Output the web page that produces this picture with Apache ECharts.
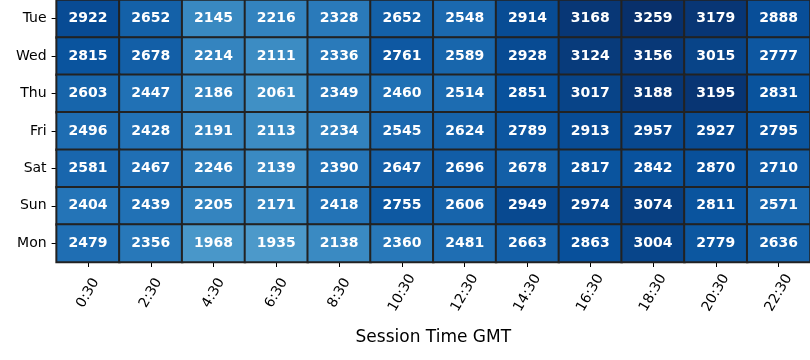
<!DOCTYPE html>
<html>
<head>
<meta charset="utf-8">
<script src="https://cdn.jsdelivr.net/npm/echarts@6/dist/echarts.min.js"></script>
<style>html,body{margin:0;padding:0;background:#fff}#c{width:810px;height:360px}</style>
</head>
<body>
<div id="c"></div>
<script>
const hours = ['0:30','2:30','4:30','6:30','8:30','10:30','12:30','14:30','16:30','18:30','20:30','22:30'];
const days = ['Tue','Wed','Thu','Fri','Sat','Sun','Mon'];
const tue = [2922,2652,2145,2216,2328,2652,2548,2914,3168,3259,3179,2888];
const wed = [2815,2678,2214,2111,2336,2761,2589,2928,3124,3156,3015,2777];
const thu = [2603,2447,2186,2061,2349,2460,2514,2851,3017,3188,3195,2831];
const fri = [2496,2428,2191,2113,2234,2545,2624,2789,2913,2957,2927,2795];
const sat = [2581,2467,2246,2139,2390,2647,2696,2678,2817,2842,2870,2710];
const sun = [2404,2439,2205,2171,2418,2755,2606,2949,2974,3074,2811,2571];
const mon = [2479,2356,1968,1935,2138,2360,2481,2663,2863,3004,2779,2636];
const rows = [tue, wed, thu, fri, sat, sun, mon];
const blues = ['#f7fbff','#deebf7','#c6dbef','#9ecae1','#6baed6','#4292c6','#2171b5','#08519c','#08306b'];

const data = [];
rows.forEach((r, yi) => r.forEach((v, xi) => data.push([xi, yi, v])));
const vmax = Math.max(...rows.flat());

const chart = echarts.init(document.getElementById('c'), null, {renderer: 'canvas'});
const font = 'DejaVu Sans';
chart.setOption({
  animation: false,
  backgroundColor: '#fff',
  grid: {left: 56.6, top: -1, width: 754, height: 263, containLabel: false},
  xAxis: {
    type: 'category', data: hours, position: 'bottom',
    axisLine: {show: false},
    axisTick: {show: true, alignWithLabel: true, length: 5, lineStyle: {color: '#000', width: 1}},
    axisLabel: {rotate: 60, align: 'center', verticalAlign: 'middle', margin: 31, fontSize: 14, fontFamily: font, color: '#000', interval: 0},
    splitLine: {show: false},
    name: 'Session Time GMT', nameLocation: 'middle', nameGap: 76,
    nameTextStyle: {fontSize: 17, fontFamily: font, color: '#000', verticalAlign: 'middle'}
  },
  yAxis: {
    type: 'category', data: days, inverse: true,
    axisLine: {show: false},
    axisTick: {show: true, alignWithLabel: true, length: 5, lineStyle: {color: '#000', width: 1}},
    axisLabel: {margin: 10, fontSize: 14, fontFamily: font, color: '#000', interval: 0},
    splitLine: {show: false}
  },
  visualMap: {show: false, min: 0, max: vmax, dimension: 2, inRange: {color: blues}},
  series: [{
    type: 'heatmap', data: data,
    itemStyle: {borderColor: '#222', borderWidth: 2},
    label: {show: true, formatter: p => p.value[2], color: '#fff', fontWeight: 'bold', fontSize: 14, fontFamily: font},
    emphasis: {disabled: true}
  }]
});
</script>
</body>
</html>
